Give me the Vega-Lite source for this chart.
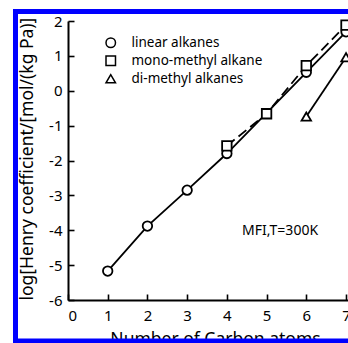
{
  "$schema": "https://vega.github.io/schema/vega-lite/v6.json",
  "width": 280,
  "height": 279,
  "autosize": {"type": "none"},
  "padding": {"left": 68, "top": 21, "right": 0, "bottom": 43},
  "background": "white",
  "config": {
    "view": {"stroke": null},
    "font": "Noto Sans",
    "axis": {
      "grid": false,
      "domainColor": "black",
      "domainWidth": 2,
      "tickColor": "black",
      "tickWidth": 1.6,
      "tickSize": -6,
      "labelColor": "black",
      "labelFont": "Noto Sans",
      "labelFontSize": 15,
      "labelFontWeight": "normal",
      "labelOverlap": false,
      "titleColor": "black",
      "titleFont": "Noto Sans",
      "titleFontSize": 17.5,
      "titleFontWeight": "normal"
    }
  },
  "data": {
    "values": [
      {"carbon": 1, "logH": -5.17, "series": "linear alkanes"},
      {"carbon": 2, "logH": -3.88, "series": "linear alkanes"},
      {"carbon": 3, "logH": -2.85, "series": "linear alkanes"},
      {"carbon": 4, "logH": -1.8, "series": "linear alkanes"},
      {"carbon": 6, "logH": 0.53, "series": "linear alkanes"},
      {"carbon": 7, "logH": 1.69, "series": "linear alkanes"},
      {"carbon": 4, "logH": -1.58, "series": "mono-methyl alkane"},
      {"carbon": 5, "logH": -0.66, "series": "mono-methyl alkane"},
      {"carbon": 6, "logH": 0.72, "series": "mono-methyl alkane"},
      {"carbon": 7, "logH": 1.88, "series": "mono-methyl alkane"},
      {"carbon": 6, "logH": -0.74, "series": "di-methyl alkanes"},
      {"carbon": 7, "logH": 0.96, "series": "di-methyl alkanes"}
    ]
  },
  "layer": [
    {
      "transform": [{"filter": "datum.series !== 'mono-methyl alkane'"}],
      "mark": {"type": "line", "color": "black", "strokeWidth": 1.8},
      "encoding": {
        "x": {
          "field": "carbon", "type": "quantitative",
          "scale": {"domain": [0, 7.05], "nice": false, "zero": false},
          "axis": {"values": [0, 1, 2, 3, 4, 5, 6, 7], "tickCount": 8, "labelOverlap": false, "title": "Number of Carbon atoms", "labelPadding": 14, "titlePadding": 7, "titleX": 147}
        },
        "y": {
          "field": "logH", "type": "quantitative",
          "scale": {"domain": [-6, 2], "nice": false, "zero": false},
          "axis": {"values": [-6, -5, -4, -3, -2, -1, 0, 1, 2], "tickCount": 9, "labelOverlap": false, "labelExpr": "'' + datum.value", "title": "log[Henry coefficient/[mol/(kg Pa)]", "titleAnchor": "start", "labelPadding": 12, "titlePadding": 12}
        },
        "detail": {"field": "series", "type": "nominal"}
      }
    },
    {
      "transform": [{"filter": "datum.series === 'mono-methyl alkane'"}],
      "mark": {"type": "line", "color": "black", "strokeWidth": 1.8, "strokeDash": [10, 5]},
      "encoding": {
        "x": {
          "field": "carbon", "type": "quantitative",
          "axis": {"values": [0, 1, 2, 3, 4, 5, 6, 7], "tickCount": 8, "labelOverlap": false, "title": "Number of Carbon atoms", "labelPadding": 14, "titlePadding": 7, "titleX": 147}
        },
        "y": {
          "field": "logH", "type": "quantitative",
          "axis": {"values": [-6, -5, -4, -3, -2, -1, 0, 1, 2], "tickCount": 9, "labelOverlap": false, "labelExpr": "'' + datum.value", "title": "log[Henry coefficient/[mol/(kg Pa)]", "titleAnchor": "start", "labelPadding": 12, "titlePadding": 12}
        }
      }
    },
    {
      "mark": {"type": "point", "filled": true, "fill": "white", "stroke": "black", "strokeWidth": 1.8, "size": 90, "opacity": 1},
      "encoding": {
        "x": {
          "field": "carbon", "type": "quantitative",
          "axis": {"values": [0, 1, 2, 3, 4, 5, 6, 7], "tickCount": 8, "labelOverlap": false, "title": "Number of Carbon atoms", "labelPadding": 14, "titlePadding": 7, "titleX": 147}
        },
        "y": {
          "field": "logH", "type": "quantitative",
          "axis": {"values": [-6, -5, -4, -3, -2, -1, 0, 1, 2], "tickCount": 9, "labelOverlap": false, "labelExpr": "'' + datum.value", "title": "log[Henry coefficient/[mol/(kg Pa)]", "titleAnchor": "start", "labelPadding": 12, "titlePadding": 12}
        },
        "shape": {
          "field": "series", "type": "nominal",
          "scale": {"domain": ["linear alkanes", "mono-methyl alkane", "di-methyl alkanes"], "range": ["circle", "square", "triangle-up"]},
          "legend": {
            "title": null,
            "orient": "none",
            "legendX": 36,
            "legendY": 15,
            "padding": 0,
            "symbolSize": 90,
            "labelFont": "Noto Sans",
            "labelFontSize": 13.5,
            "labelColor": "black",
            "labelOffset": 14,
            "rowPadding": 2,
            "encode": {
              "symbols": {
                "update": {
                  "fill": {"value": "white"},
                  "stroke": {"value": "black"},
                  "strokeWidth": {"value": 1.8},
                  "opacity": {"value": 1}
                }
              }
            }
          }
        }
      }
    },
    {
      "data": {"values": [{}]},
      "mark": {"type": "text", "font": "Noto Sans", "fontSize": 14, "fontWeight": "normal", "color": "black", "align": "center", "baseline": "middle"},
      "encoding": {
        "x": {
          "datum": 5.34, "type": "quantitative",
          "axis": {"values": [0, 1, 2, 3, 4, 5, 6, 7], "tickCount": 8, "labelOverlap": false, "title": "Number of Carbon atoms", "labelPadding": 14, "titlePadding": 7, "titleX": 147}
        },
        "y": {
          "datum": -4.02, "type": "quantitative",
          "axis": {"values": [-6, -5, -4, -3, -2, -1, 0, 1, 2], "tickCount": 9, "labelOverlap": false, "labelExpr": "'' + datum.value", "title": "log[Henry coefficient/[mol/(kg Pa)]", "titleAnchor": "start", "labelPadding": 12, "titlePadding": 12}
        },
        "text": {"value": "MFI,T=300K"}
      }
    },
    {
      "data": {"values": [{}]},
      "mark": {"type": "rect", "fill": null, "fillOpacity": 0, "stroke": "#0000ff", "strokeWidth": 5, "clip": false},
      "encoding": {
        "x": {
          "datum": -1.322, "type": "quantitative",
          "axis": {"values": [0, 1, 2, 3, 4, 5, 6, 7], "tickCount": 8, "labelOverlap": false, "title": "Number of Carbon atoms", "labelPadding": 14, "titlePadding": 7, "titleX": 147}
        },
        "x2": {"datum": 9},
        "y": {
          "datum": 2.272, "type": "quantitative",
          "axis": {"values": [-6, -5, -4, -3, -2, -1, 0, 1, 2], "tickCount": 9, "labelOverlap": false, "labelExpr": "'' + datum.value", "title": "log[Henry coefficient/[mol/(kg Pa)]", "titleAnchor": "start", "labelPadding": 12, "titlePadding": 12}
        },
        "y2": {"datum": -7.176}
      }
    }
  ]
}
